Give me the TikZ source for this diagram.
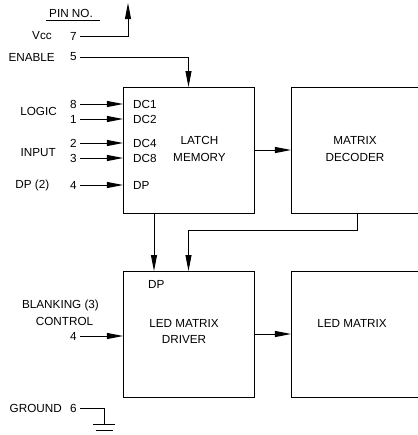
\documentclass[tikz,border=0pt]{standalone}
\usepackage{fontspec}
\setmainfont{Liberation Sans}
\usetikzlibrary{positioning, arrows.meta, calc}

\tikzset{
  blk/.style={draw, line width=0.8pt, minimum width=3.93cm, minimum height=3.78cm, inner sep=0pt, outer sep=0pt},
  wide/.style={blk, minimum width=4.3cm},
  txt/.style={font=\fontsize{10}{13.8}\selectfont, inner sep=0pt},
  wire/.style={line width=0.8pt},
  arr/.style={wire, -{Triangle[length=0.48cm, width=0.18cm]}},
}

\begin{document}
\begin{tikzpicture}[x=0.03cm, y=-0.03cm]
    \useasboundingbox (0,0) rectangle (418,435);

    % Blocks (right-hand ones run past the page edge)
    \node[blk] (latch) at (188.5,150) {};
    \node[wide, anchor=west] (decoder) at (291,150) {};
    \node[blk] (driver) at (188.5,334) {};
    \node[wide, anchor=west] (ledmat) at (291,334) {};

    \node[txt, align=center] (latchtxt) at (199.5,149) {LATCH\\MEMORY};
    \node[txt, align=center] (dectxt) at (355,149) {MATRIX\\DECODER};
    \node[txt, align=center] (drvtxt) at (184,331.5) {LED MATRIX\\DRIVER};
    \node[txt] (ledtxt) at (352,323) {LED MATRIX};
    \node[txt, anchor=west] (drvdp) at (148,284) {DP};

    % Pin header
    \node[txt] (pinno) at (71,13) {PIN NO.};
    \draw[wire] ($(pinno.south west)+(-3,3.5)$) -- ($(pinno.south east)+(7,3.5)$);

    % Vcc and enable
    \node[txt, anchor=east] (vcclbl) at (52,36) {Vcc};
    \node[txt, anchor=east] (pin7) at (77,36) {7};
    \coordinate (vcc) at (128,3);
    \draw[arr] ([xshift=0.1cm]pin7.east) -| (vcc);

    \node[txt, anchor=east] (enlbl) at (55,57) {ENABLE};
    \node[txt, anchor=east] (pin5) at (77,57) {5};
    \draw[arr] ([xshift=0.1cm]pin5.east) -| (latch.north);

    % Data inputs
    \foreach \y/\n/\dc [count=\i] in {104/8/DC1, 119/1/DC2, 143/2/DC4, 158/3/DC8, 185/4/DP} {
        \node[txt, anchor=east] (in\i) at (77,\y) {\n};
        \node[txt, anchor=west] (dc\i) at (133,\y) {\dc};
        \draw[arr] ([xshift=0.1cm]in\i.east) -- (in\i.east -| latch.west);
    }
    \node[txt, anchor=east] (logiclbl) at (57,111) {LOGIC};
    \node[txt, anchor=east] (inputlbl) at (56,153) {INPUT};
    \node[txt, anchor=east] (dplbl) at (49.5,185) {DP (2)};

    % Block connections
    \draw[arr] (latch.east) -- (decoder.west);
    \draw[arr] (driver.east) -- (ledmat.west);
    \draw[arr] ($(latch.south west)+(31,0)$) -- ($(driver.north west)+(31,0)$);
    \draw[arr] ($(decoder.south west)+(66,0)$) -- ++(0,17) -| (driver.north);

    % Blanking control
    \node[txt] (blanklbl) at (60.5,305) {BLANKING (3)};
    \node[txt] (ctrllbl) at (64.5,321) {CONTROL};
    \node[txt, anchor=east] (pin4b) at (77,336) {4};
    \draw[arr] ([xshift=0.1cm]pin4b.east) -- (pin4b.east -| driver.west);

    % Ground
    \node[txt, anchor=east] (gndlbl) at (62,408) {GROUND};
    \node[txt, anchor=east] (pin6) at (77,408) {6};
    \coordinate (gnd) at (104,424);
    \draw[wire] ([xshift=0.1cm]pin6.east) -| (gnd);
    \draw[wire] ($(gnd)+(-11,0)$) -- ($(gnd)+(11,0)$);
    \draw[wire] ($(gnd)+(-8.5,6)$) -- ($(gnd)+(8.5,6)$);
\end{tikzpicture}
\end{document}
